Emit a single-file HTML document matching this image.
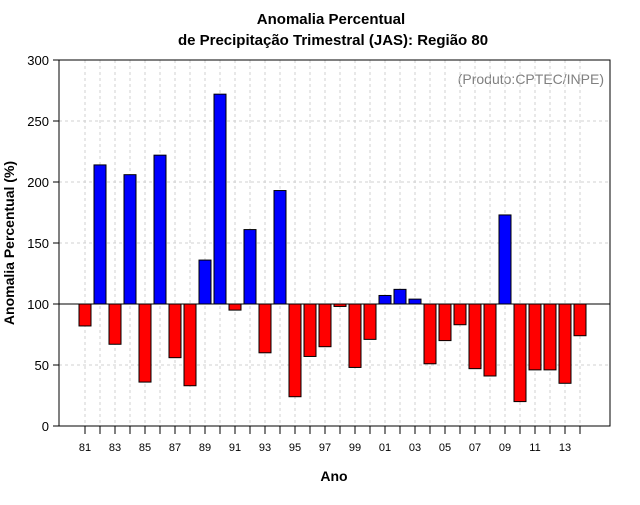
<!DOCTYPE html>
<html><head><meta charset="utf-8"><style>
body{margin:0;background:#fff;font-family:"Liberation Sans",sans-serif}
</style></head><body>
<svg id="c" width="640" height="500" xmlns="http://www.w3.org/2000/svg">
<text x="331" y="24" text-anchor="middle" font-size="15" font-weight="bold">Anomalia Percentual</text>
<text x="333" y="45" text-anchor="middle" font-size="15" font-weight="bold">de Precipitação Trimestral (JAS): Região 80</text>
<text x="604" y="84" text-anchor="end" font-size="14" fill="#808080">(Produto:CPTEC/INPE)</text>
<text x="334" y="481" text-anchor="middle" font-size="14" font-weight="bold">Ano</text>
<text transform="translate(14,243) rotate(-90)" text-anchor="middle" font-size="14" font-weight="bold">Anomalia Percentual (%)</text>
<g id="g"></g>
</svg>
<script>
const years=["81","82","83","84","85","86","87","88","89","90","91","92","93","94","95","96","97","98","99","00","01","02","03","04","05","06","07","08","09","10","11","12","13","14"];
const values=[82,214,67,206,36,222,56,33,136,272,95,161,60,193,24,57,65,98,48,71,107,112,104,51,70,83,47,41,173,20,46,46,35,74];
const yTicks=[0,50,100,150,200,250,300];
const NS="http://www.w3.org/2000/svg";
const g=document.getElementById('g');
const L=59,R=610,T=60,B=426;
const y=v=>B-(v/300)*(B-T);
const x=i=>85+i*15;
function mk(t,a){const e=document.createElementNS(NS,t);for(const k in a)e.setAttribute(k,a[k]);g.appendChild(e);return e;}
yTicks.forEach(v=>{
 const l=mk('line',{x1:L,x2:R,y1:y(v),y2:y(v),stroke:'#d0d0d0','stroke-dasharray':'3,3'});
 
 
 const t=mk('line',{x1:L-6,x2:L,y1:y(v),y2:y(v),stroke:'#000'});
 
 
 const tx=mk('text',{x:L-10,y:y(v)+5,'text-anchor':'end','font-size':'13'});
 tx.textContent=v;
 
 
});
years.forEach((yr,i)=>{
 const l=mk('line',{x1:x(i),x2:x(i),y1:T,y2:B,stroke:'#d0d0d0','stroke-dasharray':'3,3'});
 
 
 const t=mk('line',{x1:x(i),x2:x(i),y1:B,y2:B+8,stroke:'#000'});
 
 
 if(i%2===0){const tx=mk('text',{x:x(i),y:B+25,'text-anchor':'middle','font-size':'11'});
 tx.textContent=yr;
 
 }
});
values.forEach((v,i)=>{
 const top=Math.min(y(v),y(100)),h=Math.abs(y(v)-y(100));
 const r=mk('rect',{x:x(i)-6,y:top,width:12,height:h,fill:v>=100?'#0000ff':'#ff0000',stroke:'#000','stroke-width':1});
 
 
});
const bl=mk('line',{x1:L,x2:R,y1:y(100),y2:y(100),stroke:'#000'});


const box=mk('rect',{x:L,y:T,width:R-L,height:B-T,fill:'none',stroke:'#000'});


</script>
</body></html>
